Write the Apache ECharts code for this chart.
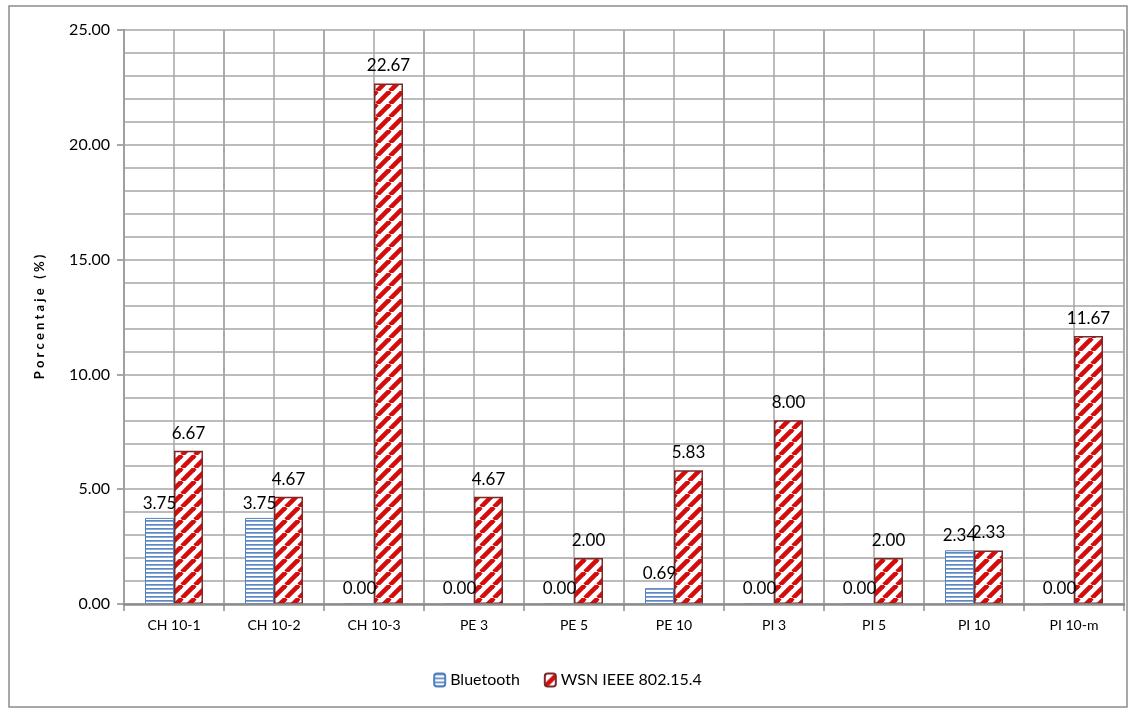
<!DOCTYPE html>
<html><head><meta charset="utf-8">
<script src="https://cdn.jsdelivr.net/npm/echarts@6/dist/echarts.min.js"></script>
<style>html,body{margin:0;padding:0;background:#fff}#c{width:1135px;height:715px}</style>
</head><body><div id="c"></div>
<script>
const categories = ['CH 10-1','CH 10-2','CH 10-3','PE 3','PE 5','PE 10','PI 3','PI 5','PI 10','PI 10-m'];
const bluetooth = [3.75, 3.75, 0.00, 0.00, 0.00, 0.69, 0.00, 0.00, 2.34, 0.00];
const wsn = [6.67, 4.67, 22.67, 4.67, 2.00, 5.83, 8.00, 2.00, 2.33, 11.67];
const seriesNames = ['Bluetooth', 'WSN IEEE 802.15.4'];

function hPattern(){
  const c = document.createElement('canvas'); c.width = 4; c.height = 4;
  const g = c.getContext('2d');
  g.fillStyle = '#fff'; g.fillRect(0,0,4,4);
  g.fillStyle = '#5b87c5'; g.fillRect(0,0,4,1.7);
  return c;
}
function dPattern(){
  const s = 13;
  const c = document.createElement('canvas'); c.width = s; c.height = s;
  const g = c.getContext('2d');
  g.fillStyle = '#fff'; g.fillRect(0,0,s,s);
  g.strokeStyle = '#d40c0c'; g.lineWidth = 4.6;
  for (let k = -1; k <= 1; k++) {
    g.beginPath(); g.moveTo(k*s, s); g.lineTo(k*s + s, 0); g.stroke();
  }
  return c;
}
const chart = echarts.init(document.getElementById('c'), null, {renderer:'canvas'});
const font = 'Lato, "Open Sans", sans-serif';
const gridCol = '#a6a6a6';
chart.setOption({
  animation: false,
  textStyle: {fontFamily: font},
  graphic: [{type:'rect', shape:{x:9,y:6,width:1118,height:701}, style:{fill:'none', stroke:'#8c8c8c', lineWidth:1.5}}],
  grid: {left:124, right:11, top:30, bottom:111},
  legend: {
    bottom: 22, left: 'center', itemWidth: 11, itemHeight: 13, itemGap: 24,
    textStyle: {fontSize: 16, color:'#000', fontFamily: font},
    data: seriesNames
  },
  xAxis: [{
    type: 'category', data: categories, z: 5,
    axisLine: {lineStyle:{color:'#8c8c8c', width:2.5}},
    axisTick: {show:true, length:7, lineStyle:{color:'#8c8c8c', width:1.5}},
    splitLine: {show:true, lineStyle:{color:gridCol, width:1.5}},
    axisLabel: {color:'#000', fontSize:14, margin:14, fontFamily: font}
  },{
    type: 'value', min: 0, max: 20, interval: 1, position: 'bottom',
    axisLine: {show:false}, axisTick: {show:false}, axisLabel: {show:false},
    splitLine: {show:true, lineStyle:{color:gridCol, width:1.5}}
  }],
  yAxis: {
    type: 'value', min: 0, max: 25, interval: 5,
    name: 'P o r c e n t a j e   ( % )', nameLocation: 'middle', nameGap: 78,
    nameTextStyle: {fontSize: 13, fontWeight: 'bold', color:'#000', fontFamily: font},
    axisLine: {show:true, lineStyle:{color:'#8c8c8c', width:2}},
    axisTick: {show:true, length:7, lineStyle:{color:'#8c8c8c', width:1.5}},
    axisLabel: {color:'#000', fontSize:16, margin:14, formatter: v => v.toFixed(2), fontFamily: font},
    splitLine: {show:true, lineStyle:{color:gridCol, width:1.5}},
    minorTick: {show:false, splitNumber:5},
    minorSplitLine: {show:true, lineStyle:{color:gridCol, width:1.5}}
  },
  series: [
    {
      name: seriesNames[0], type: 'bar', data: bluetooth, barWidth: 29, barGap: '0%',
      itemStyle: {color: {image: hPattern(), repeat:'repeat'}, borderColor:'#4f81bd', borderWidth:1},
      label: {show:true, position:'top', distance:6, color:'#000', fontSize:17, fontFamily: font, formatter: p => p.value.toFixed(2)}
    },
    {
      name: seriesNames[1], type: 'bar', data: wsn, barWidth: 29,
      itemStyle: {color: {image: dPattern(), repeat:'repeat'}, borderColor:'#7b2a2a', borderWidth:1.5},
      label: {show:true, position:'top', distance:9, color:'#000', fontSize:17, fontFamily: font, formatter: p => p.value.toFixed(2)}
    }
  ]
});
</script></body></html>
